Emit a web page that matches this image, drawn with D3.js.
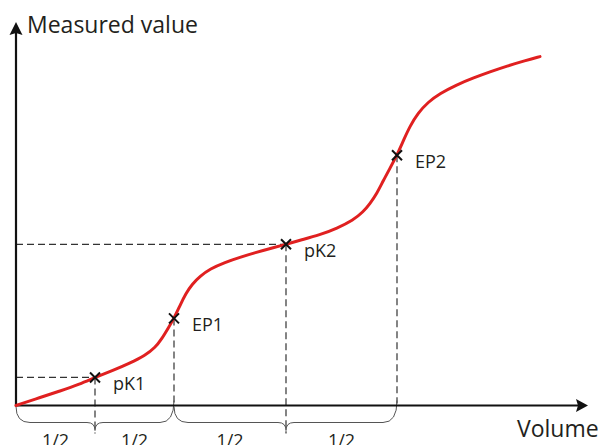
<!DOCTYPE html>
<html>
<head>
<meta charset="utf-8">
<script src="https://cdn.jsdelivr.net/npm/d3@7"></script>
<style>
html,body{margin:0;padding:0;background:#fff;}
svg{display:block;}
text{font-family:"Open Sans","Noto Sans",sans-serif;fill:#231f20;}
</style>
</head>
<body>
<svg id="chart" width="603" height="445"></svg>
<script>
// Titration curve (arbitrary units)
const volume = [0,1.2,2.2,3.2,3.95,4.8,5.7,6.45,6.95,7.3,7.6,7.9,8.2,8.5,8.8,9.2,9.7,10.45,11.2,11.95,12.85,13.5,14.2,15.2,16.05,16.85,17.35,17.7,18.05,18.35,18.7,19.05,19.4,19.7,20.1,20.6,21.2,22.0,22.85,23.7,24.55,25.45,26.2];
const measured = [0,0.4,0.72,1.07,1.4,1.73,2.12,2.5,2.88,3.35,3.85,4.35,5.0,5.6,6.05,6.45,6.82,7.15,7.4,7.63,7.88,8.05,8.25,8.52,8.85,9.25,9.66,10.08,10.6,11.2,11.85,12.5,13.3,13.95,14.6,15.15,15.58,16.0,16.35,16.66,16.95,17.22,17.42];

const pointNames = ["pK1","EP1","pK2","EP2"];
const pointVolume = [3.95,7.9,13.5,19.05];
const pointValue = [1.4,4.35,8.05,12.5];
const halfLabels = ["1/2","1/2","1/2","1/2"];
const xTitle = "Volume";
const yTitle = "Measured value";

const svg = d3.select("#chart");
const x = d3.scaleLinear().domain([0,28.6]).range([16,588]);
const y = d3.scaleLinear().domain([0,19.15]).range([405.5,22]);
const x0 = x(0), y0 = y(0);

// dashed guide lines
const dash = svg.append("g").attr("stroke","#333").attr("stroke-width",1.2)
  .attr("stroke-dasharray","7,4").attr("fill","none");
[0,2].forEach(i=>{
  dash.append("line").attr("x1",x0).attr("x2",x(pointVolume[i]))
    .attr("y1",y(pointValue[i])).attr("y2",y(pointValue[i]));
});
pointVolume.forEach((v,i)=>{
  const isPK = pointNames[i].startsWith("pK");
  dash.append("line").attr("x1",x(v)).attr("x2",x(v))
    .attr("y1",y(pointValue[i])).attr("y2",isPK ? y0+28 : y0-2);
});

// braces
const braceEnds = [[0,pointVolume[0],pointVolume[1]],[pointVolume[1],pointVolume[2],pointVolume[3]]];
const bt = y0+1, bh = y0+17, btip = y0+25;
braceEnds.forEach(([a,m,b])=>{
  const xa=x(a), xm=x(m), xb=x(b);
  const p = d3.path();
  p.moveTo(xa,bt);
  p.quadraticCurveTo(xa,bh,xa+14,bh);
  p.lineTo(xm-8,bh);
  p.quadraticCurveTo(xm,bh,xm,btip);
  p.quadraticCurveTo(xm,bh,xm+8,bh);
  p.lineTo(xb-14,bh);
  p.quadraticCurveTo(xb,bh,xb,bt-6);
  svg.append("path").attr("d",p.toString()).attr("fill","none")
    .attr("stroke","#555").attr("stroke-width",1);
});

// half labels
const halfCenters = [
  (0+pointVolume[0])/2,(pointVolume[0]+pointVolume[1])/2,
  (pointVolume[1]+pointVolume[2])/2,(pointVolume[2]+pointVolume[3])/2];
halfCenters.forEach((c,i)=>{
  svg.append("text").attr("x",x(c)).attr("y",y0+41).attr("text-anchor","middle")
    .attr("font-size",18).text(halfLabels[i]);
});

// axes
const ax = svg.append("g");
ax.append("line").attr("x1",x0).attr("x2",578).attr("y1",y0).attr("y2",y0)
  .attr("stroke","#111").attr("stroke-width",2.2);
ax.append("line").attr("x1",x0).attr("x2",x0).attr("y1",y0+1).attr("y2",33)
  .attr("stroke","#111").attr("stroke-width",2.2);
ax.append("path").attr("d",`M588,${y0} L576,${y0-6.5} L578,${y0} L576,${y0+6.5} Z`).attr("fill","#111");
ax.append("path").attr("d",`M${x0},22 L${x0-6.5},35 L${x0},33 L${x0+6.5},35 Z`).attr("fill","#111");

// curve
const line = d3.line().x((d,i)=>x(volume[i])).y((d,i)=>y(measured[i])).curve(d3.curveBasis);
svg.append("path").datum(volume).attr("d",line).attr("fill","none")
  .attr("stroke","#e02020").attr("stroke-width",3).attr("stroke-linecap","round");

// markers
pointVolume.forEach((v,i)=>{
  const cx=x(v), cy=y(pointValue[i]), s=5;
  svg.append("path").attr("d",`M${cx-s},${cy-s}L${cx+s},${cy+s}M${cx-s},${cy+s}L${cx+s},${cy-s}`)
    .attr("stroke","#111").attr("stroke-width",2);
  svg.append("text").attr("x",cx+18).attr("y",cy+13).attr("font-size",18).text(pointNames[i]);
});

// titles
svg.append("text").attr("x",27).attr("y",33).attr("font-size",23).text(yTitle);
svg.append("text").attr("x",517).attr("y",437).attr("font-size",23).text(xTitle);
</script>
</body>
</html>
